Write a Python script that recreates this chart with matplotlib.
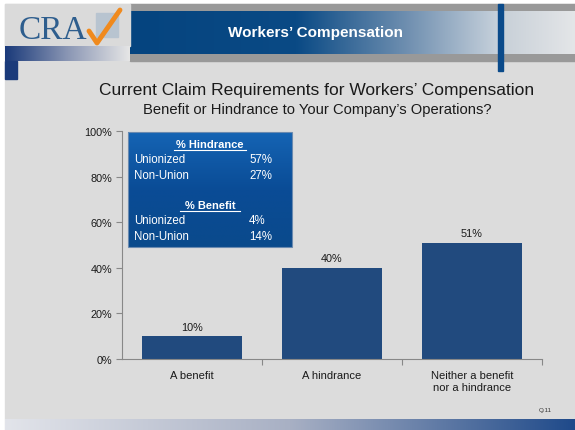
import numpy as np
import matplotlib.pyplot as plt
from matplotlib.colors import LinearSegmentedColormap
from matplotlib.patches import Rectangle

# data
categories = ['A benefit', 'A hindrance', 'Neither a benefit\nnor a hindrance']
values = [10, 40, 51]
yticks = [0, 20, 40, 60, 80, 100]
box_rows = [('Unionized', '57%'), ('Non-Union', '27%')]
box_rows2 = [('Unionized', '4%'), ('Non-Union', '14%')]

W, H = 575, 431
plt.rcParams['font.family'] = ['Liberation Sans', 'DejaVu Sans']
fig = plt.figure(figsize=(W / 100, H / 100), dpi=100)
fig.patch.set_facecolor('white')

# background / decoration axes in pixel coordinates
bg = fig.add_axes([0, 0, 1, 1])
bg.set_xlim(0, W)
bg.set_ylim(H, 0)
bg.axis('off')


def grad(ax, x0, x1, y0, y1, colors, horizontal=True, z=1):
    cmap = LinearSegmentedColormap.from_list('g', colors)
    g = np.linspace(0, 1, 256)
    img = g[None, :] if horizontal else g[:, None]
    ax.imshow(img, cmap=cmap, extent=[x0, x1, y1, y0], aspect='auto', zorder=z)


bg.add_patch(Rectangle((5, 5), W - 5, H - 5, color='#DCDCDC', zorder=0))
# header
bg.add_patch(Rectangle((130, 5), W - 130, 57, color='#999999', zorder=1))
grad(bg, 130, 500, 12, 55, [(0, '#05447F'), (0.45, '#0A4A85'), (0.75, '#6F8FB0'), (1, '#C8D2DC')])
grad(bg, 503, W, 12, 55, ['#C8D0D8', '#E4E6E8'])
bg.add_patch(Rectangle((498, 5), 5, 67, color='#0A4A8A', zorder=3))
bg.add_patch(Rectangle((5, 5), 125, 42, color='#DADADA', zorder=2))
grad(bg, 5, 130, 47, 62, ['#1A3A7A', '#8A96B4', '#E6E6E6'], z=2)
bg.add_patch(Rectangle((5, 62), 12, 18, color='#1A3A7A', zorder=2))
bg.text(315, 33, 'Workers\u2019 Compensation', color='white', fontsize=11,
        fontweight='bold', ha='center', va='center', zorder=4)
# logo
bg.text(19, 31, 'CRA', family='Liberation Serif', fontsize=24, color='#2E5E8E',
        ha='left', va='center', zorder=4)
bg.add_patch(Rectangle((96, 14), 22, 24, color='#B8C4D0', zorder=3))
bg.plot([89, 97, 120], [32, 44, 11], color='#F08A1E', lw=3.5, solid_capstyle='round', zorder=4)
# bottom bar
grad(bg, 5, W, 420, H, ['#E2E4EA', '#A8B0C4', '#1F4A8A'])

# titles
bg.text(317, 90, 'Current Claim Requirements for Workers\u2019 Compensation', fontsize=12.5,
        ha='center', va='center', color='#1A1A1A', zorder=4)
bg.text(317, 110, 'Benefit or Hindrance to Your Company\u2019s Operations?', fontsize=10.6,
        ha='center', va='center', color='#1A1A1A', zorder=4)
bg.text(545, 411, 'Q.11', fontsize=4.5, ha='center', va='center', color='#333333', zorder=4)

# chart
ax = fig.add_axes([122 / W, 1 - 360 / H, 420 / W, 228 / H])
ax.patch.set_alpha(0)
x = np.arange(len(categories))
bars = ax.bar(x, values, width=0.71, color='#214A7E')
for xi, v in zip(x, values):
    ax.text(xi, v + 2, f'{v}%', ha='center', va='bottom', fontsize=7.8, color='#1A1A1A')
ax.set_xlim(-0.5, 2.5)
ax.set_ylim(0, 100)
ax.set_yticks(yticks)
ax.set_yticklabels([f'{t}%' for t in yticks], fontsize=7.8, color='#1A1A1A')
ax.set_xticks([0.5, 1.5, 2.5], minor=False)
ax.set_xticklabels([])
ax.set_xticks(x, minor=True)
ax.set_xticklabels(categories, minor=True, fontsize=8, color='#1A1A1A')
ax.tick_params(axis='x', which='minor', length=0, pad=8)
ax.tick_params(axis='x', which='major', length=4, direction='out', color='#888888')
ax.tick_params(axis='y', length=4, color='#888888', pad=3)
for s in ['top', 'right']:
    ax.spines[s].set_visible(False)
for s in ['left', 'bottom']:
    ax.spines[s].set_color('#888888')

# info box
bx = fig.add_axes([0, 0, 1, 1], zorder=5)
bx.set_xlim(0, W)
bx.set_ylim(H, 0)
bx.axis('off')
grad(bx, 128, 292, 133, 248, ['#1564B4', '#0A4C96', '#0A4A8C'], horizontal=False, z=1)
bx.add_patch(Rectangle((128, 133), 164, 115, fill=False, ec='#6A8AB0', lw=0.8, zorder=2))
for title, ty, rows in [('% Hindrance', 145, box_rows), ('% Benefit', 206, box_rows2)]:
    t = bx.text(210, ty, title, color='white', fontsize=8, fontweight='bold',
                ha='center', va='center', zorder=3)
    hw = 3.3 * len(title)
    bx.plot([210 - hw, 210 + hw], [ty + 6, ty + 6], color='white', lw=0.8, zorder=3)
    for i, (lab, val) in enumerate(rows):
        yy = ty + 15 + i * 16
        bx.text(134, yy, lab, color='white', fontsize=8.3, ha='left', va='center', zorder=3)
        bx.text(249, yy, val, color='white', fontsize=8.3, ha='left', va='center', zorder=3)

fig.savefig('out.png', dpi=100)
